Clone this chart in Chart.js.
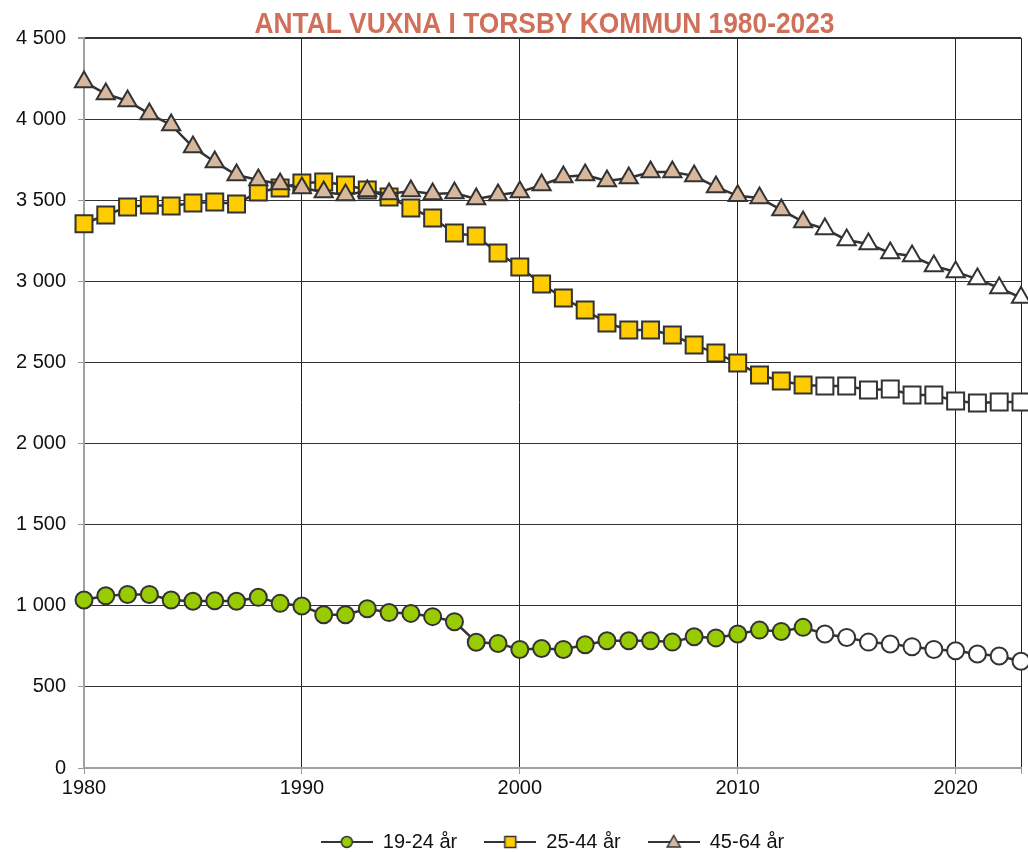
<!DOCTYPE html>
<html>
<head>
<meta charset="utf-8">
<title>Antal vuxna i Torsby kommun</title>
<script src="https://cdn.jsdelivr.net/npm/chart.js@4"></script>
<style>
  html, body { margin: 0; padding: 0; background: #fff; }
  #wrap { width: 1028px; height: 852px; }
</style>
</head>
<body>
<div id="wrap"><canvas id="vuxna-chart" width="1028" height="852"></canvas></div>
<script>
const years = [
  1980, 1981, 1982, 1983, 1984, 1985, 1986, 1987, 1988, 1989,
  1990, 1991, 1992, 1993, 1994, 1995, 1996, 1997, 1998, 1999,
  2000, 2001, 2002, 2003, 2004, 2005, 2006, 2007, 2008, 2009,
  2010, 2011, 2012, 2013, 2014, 2015, 2016, 2017, 2018, 2019,
  2020, 2021, 2022, 2023
];

const unga = [
  1036, 1062, 1070, 1070, 1036, 1028, 1031, 1028, 1052, 1015,
  999, 945, 945, 982, 958, 953, 933, 902, 775, 768,
  731, 737, 731, 760, 784, 784, 784, 776, 809, 802,
  826, 850, 842, 867, 826, 805, 776, 764, 748, 731,
  723, 703, 690, 658
];

const mellan = [
  3355, 3409, 3458, 3470, 3464, 3483, 3489, 3477, 3551, 3575,
  3606, 3612, 3594, 3563, 3520, 3452, 3390, 3298, 3279, 3175,
  3088, 2984, 2897, 2823, 2743, 2700, 2700, 2669, 2608, 2558,
  2497, 2423, 2386, 2361, 2355, 2355, 2330, 2336, 2299, 2299,
  2262, 2250, 2256, 2256
];

const aldre = [
  4229, 4155, 4112, 4032, 3964, 3828, 3736, 3655, 3625, 3600,
  3575, 3551, 3532, 3557, 3538, 3557, 3538, 3545, 3508, 3532,
  3550, 3594, 3643, 3655, 3618, 3637, 3674, 3674, 3650, 3582,
  3527, 3514, 3440, 3366, 3323, 3255, 3230, 3175, 3156, 3095,
  3058, 3014, 2959, 2900
];

const seriesNames = ['19-24 år', '25-44 år', '45-64 år'];
const yTicks = [0, 500, 1000, 1500, 2000, 2500, 3000, 3500, 4000, 4500];
const xTicks = [1980, 1990, 2000, 2010, 2020];
const openFrom = 2014; // prognos-år ritas med ofyllda markörer

const lineColor = '#333333';
const fills = ['#99cc00', '#ffcc00', '#d8b89c'];
const styles = ['circle', 'rect', 'triangle'];
const radii = [8.5, 12, 10.5];

function pts(values) {
  return years.map(function(y, i) { return { x: y, y: values[i] }; });
}

function legendIcon(style, fill) {
  const c = document.createElement('canvas');
  c.width = 52; c.height = 18;
  const g = c.getContext('2d');
  g.strokeStyle = lineColor;
  g.lineWidth = 2;
  g.beginPath(); g.moveTo(0, 9); g.lineTo(52, 9); g.stroke();
  g.fillStyle = fill;
  g.lineWidth = 1.5;
  g.beginPath();
  if (style === 'circle') {
    g.arc(26, 9, 5.5, 0, Math.PI * 2);
  } else if (style === 'rect') {
    g.rect(20.5, 3.5, 11, 11);
  } else {
    g.moveTo(26, 2.5); g.lineTo(32.5, 14); g.lineTo(19.5, 14); g.closePath();
  }
  g.fill(); g.stroke();
  return c;
}
const legendIcons = styles.map(function(s, i) { return legendIcon(s, fills[i]); });

function makeDataset(i, values, order) {
  return {
    label: seriesNames[i],
    data: pts(values),
    order: order,
    clip: false,
    borderColor: lineColor,
    borderWidth: 2.5,
    tension: 0,
    pointStyle: styles[i],
    pointRadius: radii[i],
    pointHoverRadius: radii[i],
    pointBorderColor: lineColor,
    pointBorderWidth: 2,
    pointBackgroundColor: function(ctx) {
      return years[ctx.dataIndex] >= openFrom ? '#ffffff' : fills[i];
    }
  };
}

// rubriken i smal fet stil, centrerad över diagrammet
const titlePlugin = {
  id: 'rubrik',
  afterDraw: function(chart) {
    const ctx = chart.ctx;
    const a = chart.chartArea;
    const text = 'ANTAL VUXNA I TORSBY KOMMUN 1980-2023';
    ctx.save();
    ctx.font = 'bold 30px "Liberation Sans", Arial, sans-serif';
    const w = ctx.measureText(text).width;
    const sx = 580 / w;
    ctx.translate((a.left + a.right) / 2 - 8, 25);
    ctx.scale(sx, 1);
    ctx.fillStyle = '#d0705a';
    ctx.textAlign = 'center';
    ctx.textBaseline = 'middle';
    ctx.fillText(text, 0, 0);
    ctx.restore();
  }
};

const config = {
  type: 'line',
  data: {
    datasets: [
      makeDataset(0, unga, 2),
      makeDataset(1, mellan, 1),
      makeDataset(2, aldre, 0)
    ]
  },
  options: {
    responsive: false,
    animation: false,
    layout: { autoPadding: false, padding: { top: 38, right: 7, bottom: -10, left: 0 } },
    plugins: {
      title: { display: false },
      tooltip: { enabled: false },
      legend: {
        position: 'bottom',
        fullSize: false,
        labels: {
          usePointStyle: true,
          pointStyleWidth: 52,
          padding: 27,
          color: '#111',
          font: { family: '"Liberation Sans", Arial, sans-serif', size: 20 },
          sort: function(a, b) { return a.datasetIndex - b.datasetIndex; },
          generateLabels: function(chart) {
            const items = Chart.defaults.plugins.legend.labels.generateLabels(chart);
            items.forEach(function(it) { it.pointStyle = legendIcons[it.datasetIndex]; });
            return items;
          }
        }
      }
    },
    scales: {
      x: {
        type: 'linear',
        min: 1980,
        max: 2023,
        afterBuildTicks: function(scale) {
          scale.ticks = xTicks.concat([2023]).map(function(v) { return { value: v }; });
        },
        afterFit: function(scale) { scale.height = 37; },
        ticks: {
          autoSkip: false,
          maxRotation: 0,
          padding: 2,
          color: '#111',
          font: { family: '"Liberation Sans", Arial, sans-serif', size: 20 },
          callback: function(v) { return xTicks.indexOf(v) >= 0 ? String(v) : ''; }
        },
        grid: {
          color: '#222',
          lineWidth: 1,
          tickLength: 6,
          tickColor: '#999'
        },
        border: { color: '#a0a0a0', width: 2 }
      },
      y: {
        min: 0,
        max: 4500,
        afterBuildTicks: function(scale) {
          scale.ticks = yTicks.map(function(v) { return { value: v }; });
        },
        afterFit: function(scale) { scale.width = 84; },
        ticks: {
          padding: 12,
          color: '#111',
          font: { family: '"Liberation Sans", Arial, sans-serif', size: 20 },
          callback: function(v) {
            return String(v).replace(/\B(?=(\d{3})+(?!\d))/g, ' ');
          }
        },
        grid: {
          color: function(ctx) {
            if (ctx.tick && ctx.tick.value === 0) return '#a0a0a0';
            return '#333';
          },
          lineWidth: function(ctx) {
            return ctx.tick && ctx.tick.value === 4500 ? 2 : 1;
          },
          tickLength: 6,
          tickColor: '#999'
        },
        border: { color: '#a0a0a0', width: 2 }
      }
    }
  },
  plugins: [titlePlugin]
};

const vuxnaChart = new Chart(document.getElementById('vuxna-chart'), config);
</script>
</body>
</html>
